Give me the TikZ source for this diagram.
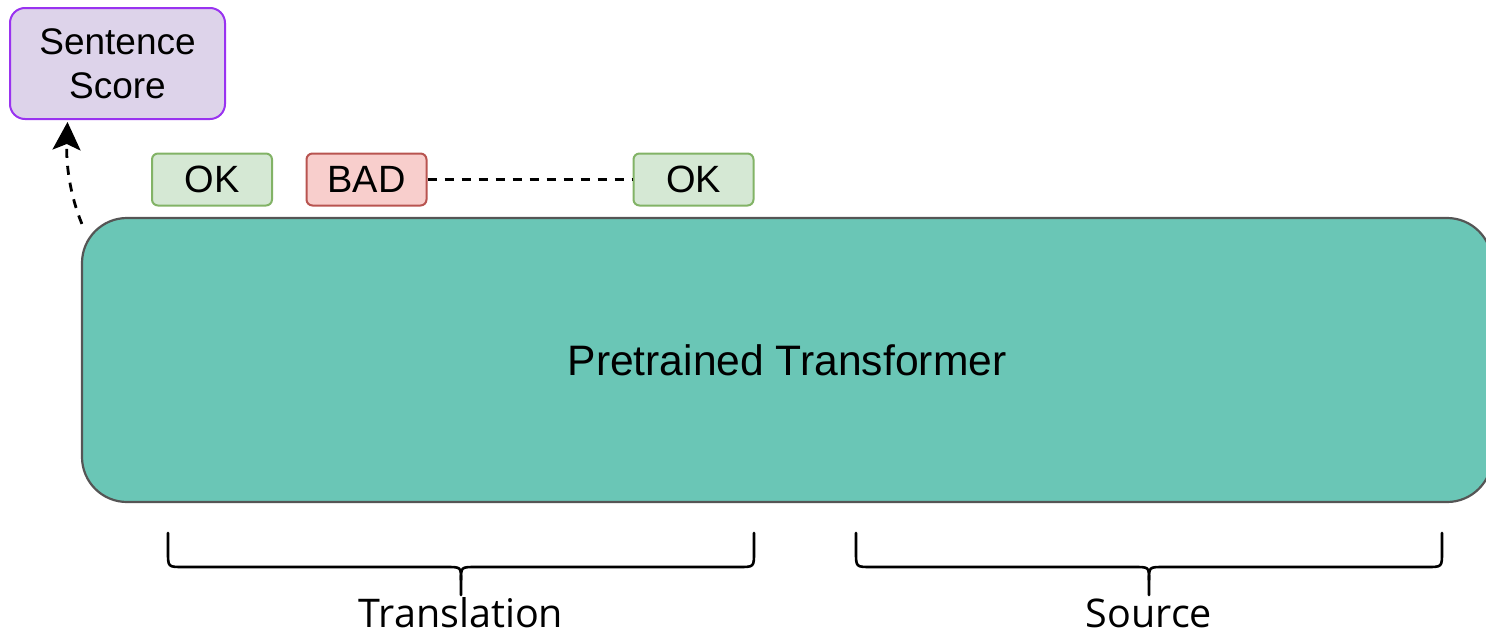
\documentclass[tikz,border=0pt]{standalone}
\usepackage{fontspec}
\setmainfont{Liberation Sans}
\newfontfamily\labelfont{Open Sans}
\usetikzlibrary{arrows.meta}
\definecolor{tealfill}{HTML}{6AC6B6}
\definecolor{tealdraw}{HTML}{555555}
\definecolor{scorefill}{HTML}{DDD3EA}
\definecolor{scoredraw}{HTML}{9933F0}
\definecolor{okfill}{HTML}{D5E8D4}
\definecolor{okdraw}{HTML}{82B366}
\definecolor{badfill}{HTML}{F8CECC}
\definecolor{baddraw}{HTML}{B85450}
\tikzset{
  tag/.style={rounded corners=6pt, line width=2pt, minimum width=120pt, minimum height=52pt,
              inner sep=0pt, font=\fontsize{38}{40}\selectfont},
  oktag/.style={tag, fill=okfill, draw=okdraw},
  badtag/.style={tag, fill=badfill, draw=baddraw},
  dashline/.style={line width=2.8pt, dash pattern=on 9pt off 8pt},
  bracepath/.style={line width=2.6pt, line cap=round, line join=round},
  bracelabel/.style={font=\labelfont\fontsize{39.5}{44}\selectfont, anchor=base, inner sep=0pt},
}
\begin{document}
\begin{tikzpicture}[x=1pt,y=-1pt]
\useasboundingbox (0,0) rectangle (1486,637);

% encoder block
\node[draw=tealdraw, fill=tealfill, line width=2.2pt, rounded corners=45pt,
      minimum width=1410pt, minimum height=284pt, inner sep=0pt,
      font=\fontsize{42.6}{44}\selectfont] (model) at (787,360) {Pretrained Transformer};

% sentence-level output
\node[draw=scoredraw, fill=scorefill, line width=2pt, rounded corners=15pt,
      minimum width=215pt, minimum height=111pt, inner sep=0pt, align=center,
      font=\fontsize{37}{44}\selectfont] (score) at (117.5,63.5) {Sentence\\Score};

% word-level tags
\node[oktag]  (ok1) at (212,179.5) {OK};
\node[badtag] (bad) at (366.5,179.5) {BAD};
\node[oktag]  (ok2) at (693.5,179.5) {OK};

\draw[dashline] (bad.east) -- (ok2.west);

\draw[dashline, -{Stealth[length=28pt,width=28pt,inset=6pt]}]
  ([xshift=1pt,yshift=-7pt]model.north west) .. controls (70,195) and (66,165) .. ([xshift=-50pt,yshift=-2pt]score.south);

% braces under the input segments
\draw[bracepath] (168,533) -- (168,552) .. controls (168,567) .. (183,567) -- (446,567)
  .. controls (461,567) .. (461,580) -- (461,595);
\draw[bracepath] (754,533) -- (754,552) .. controls (754,567) .. (739,567) -- (476,567)
  .. controls (461,567) .. (461,580);
\draw[bracepath] (856,533) -- (856,552) .. controls (856,567) .. (871,567) -- (1134,567)
  .. controls (1149,567) .. (1149,580) -- (1149,595);
\draw[bracepath] (1442,533) -- (1442,552) .. controls (1442,567) .. (1427,567) -- (1164,567)
  .. controls (1149,567) .. (1149,580);

\node[bracelabel] (trans) at (461,627) {Translation};
\node[bracelabel] (src) at (1149,627) {Source};
\end{tikzpicture}
\end{document}
